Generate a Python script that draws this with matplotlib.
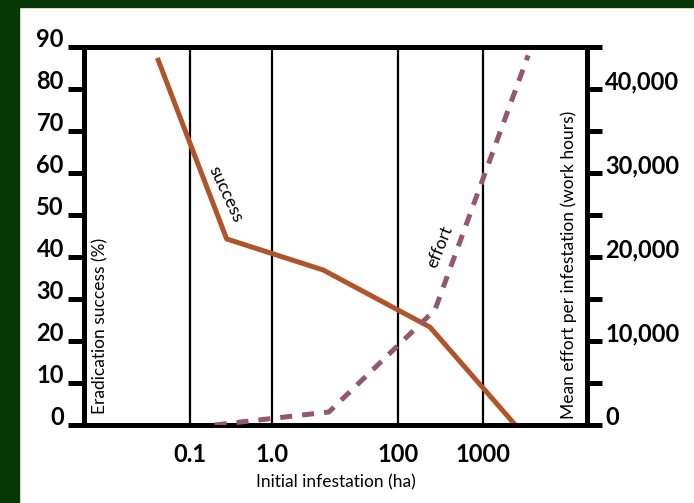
import matplotlib.pyplot as plt
import numpy as np
from matplotlib.patches import Rectangle

# data
success_x = [0.04, 0.28, 6.5, 238, 2400]      # ha
success_y = [87.4, 44.3, 36.9, 23.3, 0]        # %
effort_x = [0.2, 8, 272, 3400]                 # ha
effort_y = [0, 1550, 13700, 44000]             # work hours

x_ticks = [0.1, 1.0, 100, 1000]
x_labels = ['0.1', '1.0', '100', '1000']
left_ticks = list(range(0, 100, 10))
right_ticks = list(range(0, 50000, 5000))
right_labels = ['0', '', '10,000', '', '20,000', '', '30,000', '', '40,000', '']

# the x axis is a hand drawn "log" axis with uneven decades
anchor_log = [-4, -1, 0, 2, 3, 6]
anchor_pos = [-56, 190, 272, 398, 483, 738]

def fwd(x):
    x = np.clip(np.asarray(x, dtype=float), 1e-12, None)
    return np.interp(np.log10(x), anchor_log, anchor_pos)

def inv(p):
    return 10 ** np.interp(p, anchor_pos, anchor_log)

plt.rcParams['font.family'] = ['Lato', 'DejaVu Sans']

fig = plt.figure(figsize=(6.94, 5.03), dpi=100, facecolor='white')
green = '#053805'
fig.patches.append(Rectangle((0, 1 - 7 / 503), 1, 7 / 503, transform=fig.transFigure, color=green, zorder=-5))
fig.patches.append(Rectangle((0, 0), 19 / 694, 1, transform=fig.transFigure, color=green, zorder=-5))

ax = fig.add_axes([84 / 694, 1 - 425 / 503, (587 - 84) / 694, (425 - 47) / 503])
ax.set_facecolor('none')
ax.set_xscale('function', functions=(fwd, inv))
ax.set_xlim(inv(84), inv(587))
ax.set_ylim(0, 90)

ax2 = ax.twinx()
ax2.set_ylim(0, 45000)

ax.plot(success_x, success_y, color='#b0552a', lw=3.6, solid_capstyle='butt', zorder=3)
ax2.plot(effort_x, effort_y, color='#93596a', lw=3.6, dashes=(2.4, 2.0), zorder=3)

ax.set_xticks(x_ticks, x_labels)
ax.xaxis.grid(True, color='black', lw=1.6)
ax.tick_params(axis='x', length=0, pad=13, labelsize=17)

ax.set_yticks(left_ticks)
ax.tick_params(axis='y', length=11.5, width=3.6, pad=3, labelsize=17)
for t in ax.get_yticklabels():
    t.set_verticalalignment('baseline')

ax2.set_yticks(right_ticks, right_labels)
ax2.tick_params(axis='y', length=11, width=3.6, pad=2, labelsize=17)
for t in ax2.get_yticklabels():
    t.set_verticalalignment('baseline')

for t in ax.get_xticklabels() + ax.get_yticklabels() + ax2.get_yticklabels():
    t.set_fontweight('bold')

for a in (ax, ax2):
    for s in a.spines.values():
        s.set_linewidth(3.6)

ax.text(0.032, 0.03, 'Eradication success (%)', transform=ax.transAxes, rotation=90,
        ha='center', va='bottom', fontsize=12.5)
ax.text(0.963, 0.015, 'Mean effort per infestation (work hours)', transform=ax.transAxes,
        rotation=90, ha='center', va='bottom', fontsize=12.5)
ax.set_xlabel('Initial infestation (ha)', fontsize=12.5, labelpad=6)

ax.text(0.27, 55, 'success', rotation=-65, ha='center', va='center', fontsize=13)
ax2.text(312, 21200, 'effort', rotation=68, ha='center', va='center', fontsize=12.5)

fig.savefig('out.png', dpi=100)
